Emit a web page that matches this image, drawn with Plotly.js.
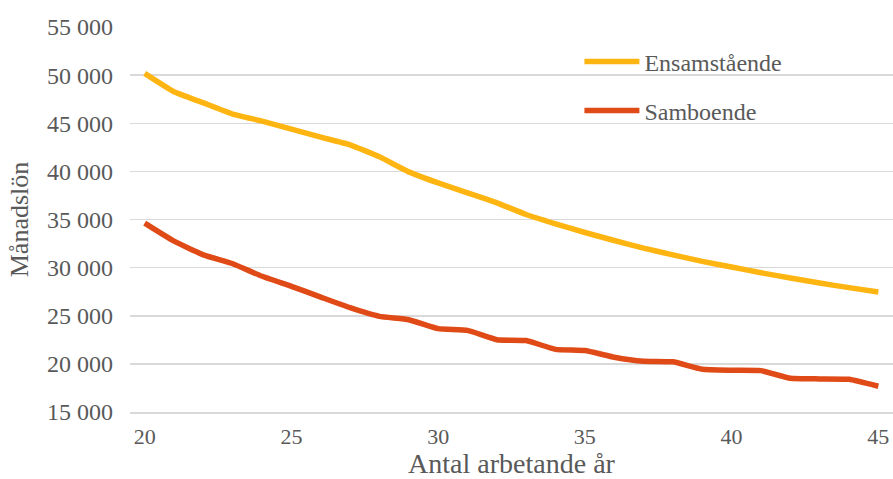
<!DOCTYPE html>
<html>
<head>
<meta charset="utf-8">
<script src="https://cdn.plot.ly/plotly-3.0.1.min.js"></script>
<style>html,body{margin:0;padding:0;background:#fff;}#chart{width:893px;height:479px;}</style>
</head>
<body>
<div id="chart"></div>
<script>
const years = [20,21,22,23,24,25,26,27,28,29,30,31,32,33,34,35,36,37,38,39,40,41,42,43,44,45];
const ensamstaende = [50180,48270,47120,45950,45220,44390,43560,42760,41510,39950,38800,37770,36730,35520,34550,33650,32820,32030,31330,30650,30060,29470,28920,28400,27920,27460];
const samboende = [34620,32750,31330,30400,29100,28060,26940,25840,24940,24590,23660,23480,22510,22420,21510,21380,20690,20270,20210,19440,19340,19300,18500,18440,18400,17680];
const seriesNames = ['Ensamstående','Samboende'];
const xTickVals = [20,25,30,35,40,45];
const yTickVals = [15000,20000,25000,30000,35000,40000,45000,50000,55000];

const font = 'Liberation Serif, Times New Roman, serif';
const traces = [
  {x: years, y: ensamstaende, name: seriesNames[0], type:'scatter', mode:'lines', legendgroup:'a',
   line:{color:'#FFB511', width:5.5, shape:'spline', smoothing:0.4}},
  {x: years, y: samboende, name: seriesNames[1], type:'scatter', mode:'lines', legendgroup:'b',
   line:{color:'#DF4A16', width:5.5, shape:'spline', smoothing:0.4}}
];
const layout = {
  width:893, height:479,
  margin:{l:130, r:0, t:27, b:67},
  paper_bgcolor:'#fff', plot_bgcolor:'#fff',
  font:{family:font, color:'#595959', size:23},
  showlegend:true,
  legend:{x:0.589, y:0.968, xanchor:'left', yanchor:'top', bgcolor:'rgba(0,0,0,0)',
          font:{family:font, size:24, color:'#595959'}, tracegroupgap:15, itemwidth:55, traceorder:'grouped'},
  xaxis:{range:[19.5,45.5], tickvals:xTickVals, showgrid:false, zeroline:false,
         showline:true, linecolor:'#d9d9d9', linewidth:1.5, ticks:'', ticklabelstandoff:4,
         tickfont:{family:font, size:22, color:'#595959'},
         title:{text:'Antal arbetande år', font:{family:font, size:28, color:'#595959'}, standoff:7}},
  yaxis:{range:[15000,55000], tickvals:yTickVals, tickformat:',d', showgrid:true, gridcolor:'#d9d9d9', gridwidth:1.5,
         zeroline:false, showline:false, ticks:'', ticklabelstandoff:16,
         tickfont:{family:font, size:24, color:'#595959'},
         title:{text:'Månadslön', font:{family:font, size:26, color:'#595959'}, standoff:10}},
  separators:', '
};
Plotly.newPlot('chart', traces, layout, {displayModeBar:false, staticPlot:true});
</script>
</body>
</html>
